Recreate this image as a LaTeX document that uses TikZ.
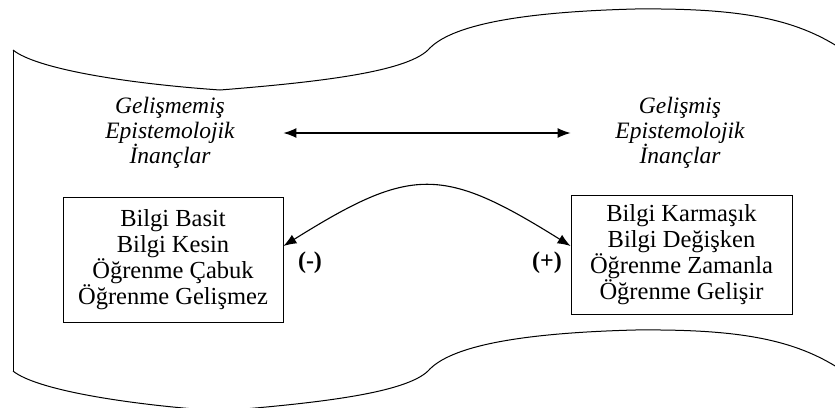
\documentclass[tikz,border=0pt]{standalone}
\usepackage{fontspec}
\setmainfont{Liberation Serif}
\usepackage{tikz}
\usetikzlibrary{arrows.meta, positioning}
\tikzstyle{arrow} = [line width=1.1pt,<->,>={Latex[length=13pt,width=10pt]}]
\tikzstyle{belief} = [font=\fontsize{23.5}{25.2}\selectfont\itshape, align=center]
\tikzstyle{claims} = [rectangle, draw, line width=0.9pt, font=\fontsize{24.5}{25.8}\selectfont, align=center]
\tikzstyle{sign} = [font=\fontsize{24}{25}\selectfont\bfseries]

\begin{document}
\begin{tikzpicture}[x=1pt,y=1pt]
\useasboundingbox (0,0) rectangle (835,-407);
\clip (0,0) rectangle (835,-407);
% wavy frame
\foreach \dy in {0,-321} {
  \draw [line width=1pt, yshift=\dy pt] (13,-50) .. controls (35,-68) and (120,-83) .. (220,-90)
    .. controls (320,-82) and (405,-72) .. (428,-50)
    .. controls (450,-25) and (520,-12) .. (635,-9)
    .. controls (740,-8) and (800,-18) .. (850,-55);
}
\draw [line width=1pt] (13,-50) -- (13,-371);
\node [claims, minimum width=220pt, minimum height=125pt] (basit) at (173,-259.5) {Bilgi Basit\\Bilgi Kesin\\Öğrenme Çabuk\\Öğrenme Gelişmez};
\node [claims, minimum width=221pt, minimum height=119pt] (karmasik) at (681.5,-254.5) {Bilgi Karmaşık\\Bilgi Değişken\\Öğrenme Zamanla\\Öğrenme Gelişir};
\node [belief] (gelismemis) at (170,-133) {Gelişmemiş\\Epistemolojik\\İnançlar};
\node [belief] (gelismis) at (680,-133) {Gelişmiş\\Epistemolojik\\İnançlar};
\node [sign] (neg) at (310,-263) {(-)};
\node [sign] (pos) at (547,-263) {(+)};
\draw [arrow] (basit.east |- gelismemis) -- (karmasik.west |- gelismemis);
\draw [arrow] ([yshift=13.5pt]basit.east) to[out=32,in=148,looseness=1.35] ([yshift=8.5pt]karmasik.west);
\end{tikzpicture}
\end{document}
